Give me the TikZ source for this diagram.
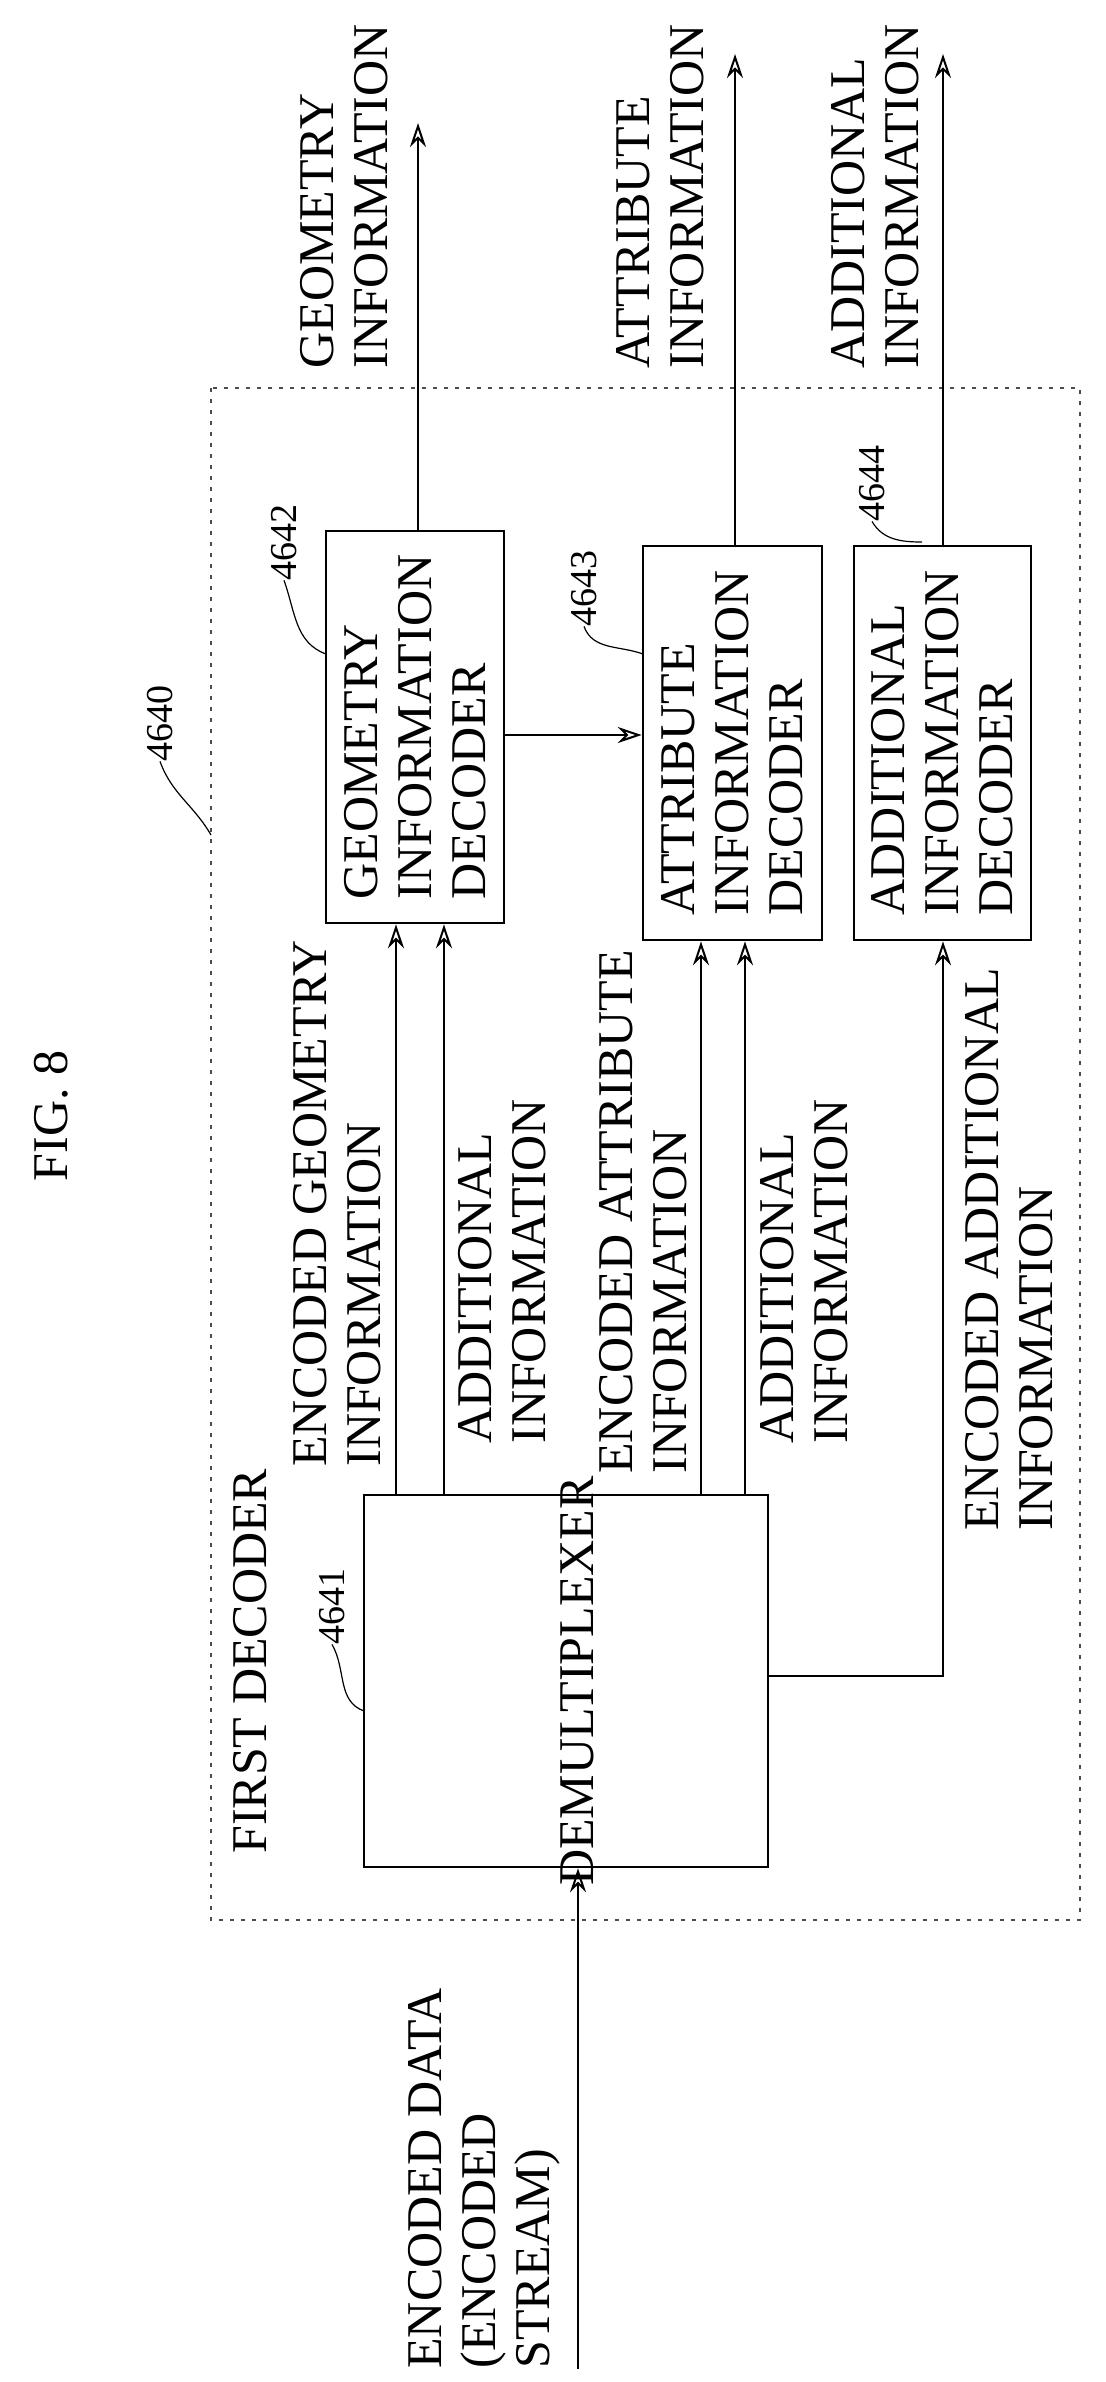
\documentclass[tikz,border=0pt]{standalone}
\usepackage{fontspec}
\setmainfont{Liberation Serif}
\usetikzlibrary{arrows.meta}
\begin{document}
\begin{tikzpicture}[x=0.5pt,y=-0.5pt,
  box/.style={draw,line width=1.3pt,inner sep=0pt},
  lbl/.style={rotate=90,anchor=north west,align=left,inner sep=0pt,font=\fontsize{25}{27}\selectfont},
  txt/.style={rotate=90,align=left,inner sep=0pt,font=\fontsize{25}{27}\selectfont},
  num/.style={rotate=90,inner sep=0pt,font=\fontsize{19}{20}\selectfont},
  arr/.style={line width=1pt,-{Stealth[length=12pt,width=8pt,open]}},
  lead/.style={line width=0.6pt}]
\useasboundingbox (0,0) rectangle (1105,2382);
\draw[line width=0.8pt,dash pattern=on 2pt off 3.5pt,black!70] (211,388) rectangle (1080,1920);
% boxes
\node[box,minimum width=89pt,minimum height=196pt] (geo) at (415,727) {};
\node[box,minimum width=89.5pt,minimum height=197pt] (att) at (732.5,743) {};
\node[box,minimum width=88.5pt,minimum height=197pt] (add) at (942.5,743) {};
\node[box,minimum width=202pt,minimum height=186pt] (dm) at (566,1681) {};
\node[txt] (geot) at (geo.center) {GEOMETRY\\INFORMATION\\DECODER};
\node[txt] (attt) at (att.center) {ATTRIBUTE\\INFORMATION\\DECODER};
\node[txt] (addt) at (add.center) {ADDITIONAL\\INFORMATION\\DECODER};
\node[txt] (dmt) at (577,1681) {DEMULTIPLEXER};
% outputs
\coordinate (go) at (418,123);
\coordinate (ao) at (735,54);
\coordinate (do) at (943,54);
\draw[arr] (geo.north -| go) -- (go);
\draw[arr] (att.north -| ao) -- (ao);
\draw[arr] (add.north -| do) -- (do);
\draw[arr] (geo.east |- 0,735) -- (att.west |- 0,735);
% inputs
\foreach \xx/\tg in {396/geo,444/geo,701/att,745/att}
  \draw[arr] (dm.north -| \xx,0) -- (\tg.south -| \xx,0);
\coordinate (bend) at (943,1676);
\draw[arr] (dm.east |- bend) -- (bend) -- (add.south -| bend);
\coordinate (src) at (578,2369);
\draw[arr] (src) -- (dm.south -| src);
% labels
\node[lbl] (l1) at (300,369) {GEOMETRY\\INFORMATION};
\node[lbl] (l2) at (616,369) {ATTRIBUTE\\INFORMATION};
\node[lbl] (l3) at (831,369) {ADDITIONAL\\INFORMATION};
\node[lbl] (l4) at (293,1467) {ENCODED GEOMETRY\\INFORMATION};
\node[lbl] (l5) at (458,1444) {ADDITIONAL\\INFORMATION};
\node[lbl] (l6) at (599,1474) {ENCODED ATTRIBUTE\\INFORMATION};
\node[lbl] (l7) at (760,1444) {ADDITIONAL\\INFORMATION};
\node[lbl] (l8) at (965,1531) {ENCODED ADDITIONAL\\INFORMATION};
\node[lbl] (l9) at (233,1854) {FIRST DECODER};
\node[lbl] (l10) at (408,2369) {ENCODED DATA\\(ENCODED\\STREAM)};
\node[txt] (fig) at (51,1116) {FIG. 8};
% reference numerals
\node[num] (n40) at (160,723) {4640};
\draw[lead] (n40.west) to[out=-70,in=120] (211,835);
\node[num] (n42) at (284,542) {4642};
\draw[lead] (n42.west) to[out=-70,in=160] (326,654);
\node[num] (n43) at (584,588) {4643};
\draw[lead] (n43.west) to[out=-70,in=160] (643,654);
\node[num] (n44) at (872,483) {4644};
\draw[lead] (n44.west) to[out=-60,in=180] (922,542);
\node[num] (n41) at (332,1606) {4641};
\draw[lead] (n41.west) to[out=-60,in=160] (364,1711);
\end{tikzpicture}
\end{document}
